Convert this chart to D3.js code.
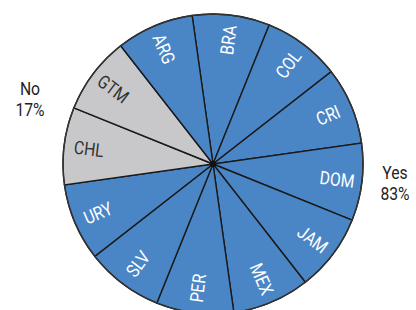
<!DOCTYPE html>
<html>
<head>
<meta charset="utf-8">
<script src="https://cdn.jsdelivr.net/npm/d3@7"></script>
<style>
  body { margin:0; background:#fff; }
  svg text { font-family:Roboto,"Liberation Sans",sans-serif; font-weight:400; }
</style>
</head>
<body>
<svg class="graph"></svg>
<script>
let width=416, height=310
let countries=['BRA','COL','CRI','DOM','JAM','MEX','PER','SLV','URY','CHL','GTM','ARG']
let answers=['Yes','Yes','Yes','Yes','Yes','Yes','Yes','Yes','Yes','No','No','Yes']
let shares=[1,1,1,1,1,1,1,1,1,1,1,1]
let groupLabels=['No','Yes']
let groupPct=['17%','83%']

let svg=d3.select('.graph').attr('width',width).attr('height',height)
let cx=213, cy=164, radius=150
let offset=-8*Math.PI/180
let squeeze=0.85   // condensed look

let color=d3.scaleOrdinal().domain(['Yes','No']).range(['#4a86c6','#c8c8ca'])
let textColor=d3.scaleOrdinal().domain(['Yes','No']).range(['#ffffff','#333333'])

let data=countries.map((c,i)=>({name:c,answer:answers[i],value:shares[i]}))

let pie=d3.pie().sort(null).value(d=>d.value)
   .startAngle(offset).endAngle(offset+2*Math.PI)
let arcs=pie(data)
let arc=d3.arc().innerRadius(0).outerRadius(radius)

let g=svg.append('g').attr('transform',`translate(${cx},${cy})`)

g.selectAll('path.slice')
  .data(arcs)
  .join('path')
  .attr('class','slice')
  .attr('d',arc)
  .attr('fill',d=>color(d.data.answer))
  .attr('stroke','#1a1a1a')
  .attr('stroke-width',1.4)

// outer rim
g.append('circle').attr('r',radius).attr('fill','none')
  .attr('stroke','#333').attr('stroke-width',1.4)

g.append('circle').attr('r',3).attr('fill','#111')

let labelR=125
g.selectAll('text.lbl')
  .data(arcs)
  .join('text')
  .attr('class','lbl')
  .attr('transform',d=>{
     let a=(d.startAngle+d.endAngle)/2
     let x=labelR*Math.sin(a), y=-labelR*Math.cos(a)
     let deg=a*180/Math.PI
     let norm=((deg%360)+360)%360
     let rot=norm<180? deg-90 : deg+90
     return `translate(${x},${y}) rotate(${rot}) scale(${squeeze},1)`
  })
  .attr('text-anchor','middle')
  .attr('dy','0.36em')
  .style('font-size','18.5px')
  .style('fill',d=>textColor(d.data.answer))
  .text(d=>d.data.name)

// group labels
let groupPos=[[30,95],[395,179]]
groupLabels.forEach((t,i)=>{
  let txt=svg.append('text')
    .attr('transform',`translate(${groupPos[i][0]},${groupPos[i][1]}) scale(${squeeze},1)`)
    .attr('text-anchor','middle')
    .style('font-size','18.5px').style('fill','#222')
  txt.append('tspan').attr('x',0).text(t)
  txt.append('tspan').attr('x',0).attr('dy',21).text(groupPct[i])
})
</script>
</body>
</html>
